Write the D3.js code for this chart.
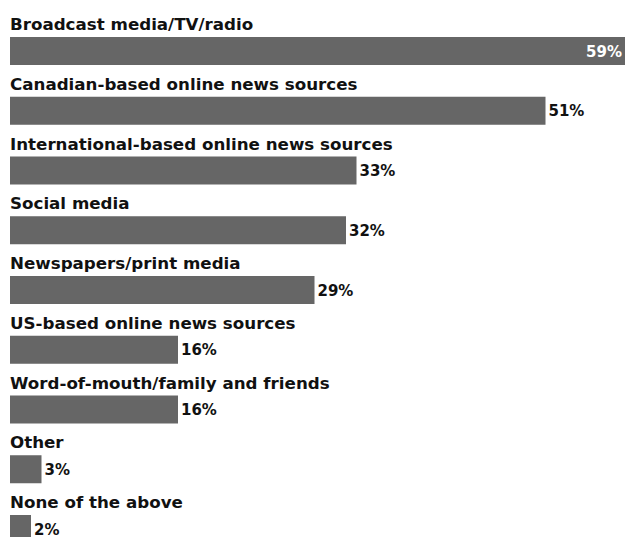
<!DOCTYPE html>
<html><head><meta charset="utf-8">
<script src="https://cdn.jsdelivr.net/npm/d3@7"></script>
<style>html,body{margin:0;padding:0;background:#fff;overflow:hidden}</style>
</head><body>
<script>
const categories = ["Broadcast media/TV/radio","Canadian-based online news sources","International-based online news sources","Social media","Newspapers/print media","US-based online news sources","Word-of-mouth/family and friends","Other","None of the above"];
const values = [59,51,33,32,29,16,16,3,2];

const W = 625, H = 537;
const svg = d3.select("body").append("svg").attr("width", W).attr("height", H)
  .style("font-family", "'DejaVu Sans', Verdana, sans-serif");

const x = d3.scaleLinear().domain([0, 59]).range([10, 10 + 59 * 10.5]);
const step = 59.75, barH = 28;
const y = d3.scaleLinear().domain([0, 1]).range([37, 37 + step]);
const maxV = d3.max(values);

const rows = svg.selectAll("g.row").data(categories).join("g").attr("class","row");

rows.append("rect")
  .attr("x", x(0))
  .attr("y", (d,i) => y(i))
  .attr("width", (d,i) => x(values[i]) - x(0))
  .attr("height", barH)
  .attr("fill", "#666666");

rows.append("text")
  .attr("x", 10)
  .attr("y", (d,i) => y(i) - 7)
  .attr("font-size", 16.7)
  .attr("font-weight", "bold")
  .attr("fill", "#111")
  .text(d => d);

rows.append("text")
  .attr("x", (d,i) => values[i] === maxV ? W - 3 : x(values[i]) + 3)
  .attr("text-anchor", (d,i) => values[i] === maxV ? "end" : "start")
  .attr("y", (d,i) => y(i) + 19.5)
  .attr("font-size", 15)
  .attr("font-weight", "bold")
  .attr("fill", (d,i) => values[i] === maxV ? "#fff" : "#111")
  .text((d,i) => values[i] + "%");
</script>
</body></html>
